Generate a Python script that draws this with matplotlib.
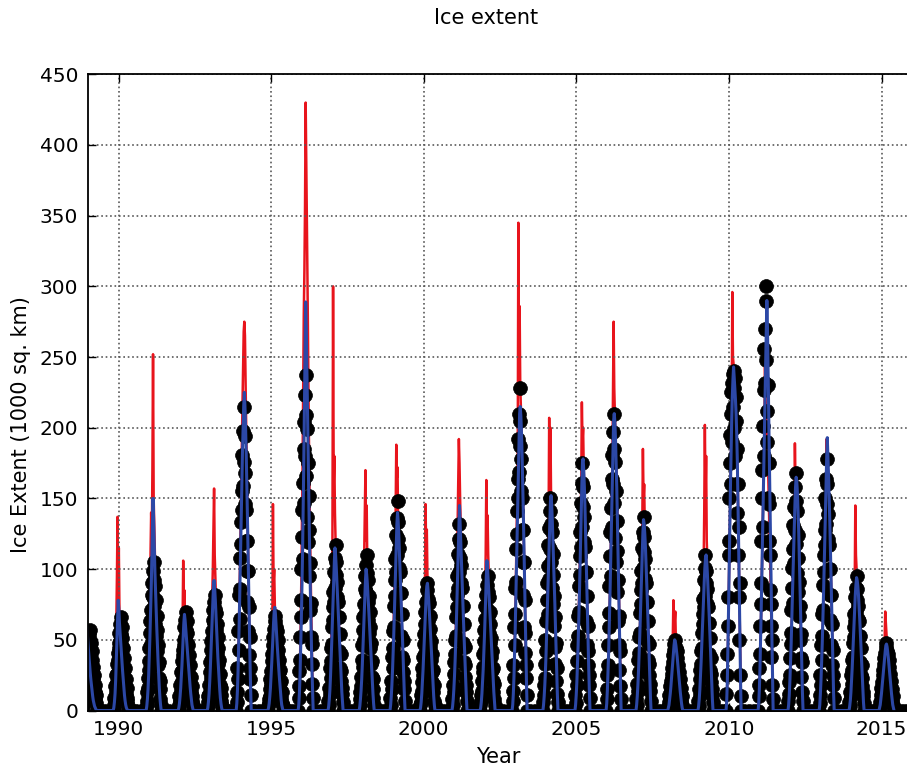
import numpy as np
import matplotlib
matplotlib.use('Agg')
import matplotlib.pyplot as plt

# Ice extent (1000 sq. km), one row per winter season, starting at season_start (decimal year)
season_start = [1988.805, 1989.825, 1990.905, 1991.955, 1992.905, 1993.855, 1994.895,
                1995.885, 1996.865, 1997.885, 1998.895, 1999.875, 2000.925, 2001.845,
                2002.895, 2003.905, 2004.955, 2005.975, 2006.955, 2007.995, 2008.985,
                2009.905, 2010.955, 2011.935, 2012.955, 2013.935, 2014.915]
black_step_days = 5    # black dots read every 5 days
line_step_days = 7.5   # red / blue lines read every 7.5 days

# black dots: observed extent (noisy)
black_vals = [
    [0, 2, 7, 4, 13, 9, 19, 24, 16, 30, 34, 26, 39, 44, 35, 49, 54, 43, 57, 50, 40, 48, 33, 42, 29, 36, 23, 31, 17, 25, 13, 18, 8, 11, 5, 2, 0],
    [0, 4, 2, 9, 7, 17, 13, 25, 20, 33, 26, 41, 36, 48, 44, 55, 49, 61, 66, 54, 59, 45, 51, 37, 44, 30, 37, 24, 30, 17, 22, 12, 16, 7, 9, 3, 0],
    [0, 4, 13, 7, 23, 16, 35, 44, 29, 55, 63, 47, 71, 82, 65, 90, 99, 80, 105, 92, 74, 88, 61, 78, 53, 67, 42, 57, 32, 46, 23, 34, 15, 21, 8, 4, 0],
    [0, 4, 2, 10, 7, 18, 14, 27, 21, 35, 28, 43, 39, 50, 46, 59, 52, 64, 70, 57, 63, 48, 55, 39, 46, 32, 39, 25, 32, 18, 24, 13, 17, 7, 10, 4, 0],
    [0, 3, 10, 6, 18, 12, 27, 34, 23, 43, 49, 37, 56, 64, 51, 71, 77, 62, 82, 72, 57, 69, 48, 61, 41, 52, 33, 44, 25, 36, 18, 26, 11, 16, 7, 3, 0],
    [0, 13, 6, 30, 22, 56, 43, 82, 65, 108, 86, 133, 118, 155, 142, 181, 159, 198, 215, 176, 194, 146, 168, 120, 142, 99, 120, 77, 99, 56, 73, 39, 52, 22, 30, 11, 0],
    [0, 3, 8, 5, 15, 10, 22, 28, 19, 35, 40, 30, 46, 52, 42, 58, 63, 51, 67, 59, 47, 56, 39, 50, 34, 43, 27, 36, 20, 29, 15, 21, 9, 13, 5, 3, 0],
    [0, 9, 28, 17, 52, 36, 78, 100, 66, 123, 142, 107, 161, 185, 147, 204, 223, 180, 237, 209, 166, 199, 137, 175, 119, 152, 95, 128, 71, 104, 52, 76, 33, 47, 19, 9, 0],
    [0, 7, 4, 16, 12, 30, 23, 44, 35, 59, 47, 73, 64, 84, 77, 98, 87, 108, 117, 96, 105, 80, 91, 66, 77, 54, 66, 42, 54, 30, 40, 21, 28, 12, 16, 6, 0],
    [0, 4, 13, 8, 24, 17, 36, 46, 31, 57, 66, 50, 75, 86, 68, 95, 103, 84, 110, 97, 77, 92, 64, 81, 55, 70, 44, 59, 33, 48, 24, 35, 15, 22, 9, 4, 0],
    [0, 9, 4, 21, 15, 38, 30, 56, 44, 74, 59, 92, 81, 107, 98, 124, 110, 136, 148, 121, 133, 101, 115, 83, 98, 68, 83, 53, 68, 38, 50, 27, 36, 15, 21, 7, 0],
    [0, 4, 11, 6, 20, 14, 30, 38, 25, 47, 54, 41, 61, 70, 56, 77, 85, 68, 90, 79, 63, 76, 52, 67, 45, 58, 36, 49, 27, 40, 20, 29, 13, 18, 7, 4, 0],
    [0, 8, 4, 18, 13, 34, 26, 50, 40, 66, 53, 82, 73, 95, 87, 111, 98, 121, 132, 108, 119, 90, 103, 74, 87, 61, 74, 48, 61, 34, 45, 24, 32, 13, 18, 7, 0],
    [0, 4, 11, 7, 21, 14, 31, 40, 27, 49, 57, 43, 65, 74, 59, 82, 89, 72, 95, 84, 67, 80, 55, 70, 48, 61, 38, 51, 29, 42, 21, 30, 13, 19, 8, 4, 0],
    [0, 14, 7, 32, 23, 59, 46, 87, 68, 114, 91, 141, 125, 164, 150, 192, 169, 210, 228, 187, 205, 155, 178, 128, 150, 105, 128, 82, 105, 59, 78, 41, 55, 23, 32, 11, 0],
    [0, 6, 18, 11, 33, 23, 50, 63, 42, 78, 90, 68, 102, 117, 93, 129, 141, 114, 150, 132, 105, 126, 87, 111, 75, 96, 60, 81, 45, 66, 33, 48, 21, 30, 12, 6, 0],
    [0, 11, 5, 25, 18, 46, 35, 67, 53, 88, 70, 109, 96, 126, 116, 147, 130, 161, 175, 144, 158, 119, 137, 98, 116, 81, 98, 63, 81, 46, 60, 32, 42, 18, 25, 9, 0],
    [0, 8, 25, 15, 46, 32, 69, 88, 59, 109, 126, 95, 143, 164, 130, 181, 197, 160, 210, 185, 147, 176, 122, 155, 105, 134, 84, 113, 63, 92, 46, 67, 29, 42, 17, 8, 0],
    [0, 8, 4, 19, 14, 36, 27, 52, 41, 69, 55, 85, 75, 99, 90, 115, 101, 126, 137, 112, 123, 93, 107, 77, 90, 63, 77, 49, 63, 36, 47, 25, 33, 14, 19, 7, 0],
    [0, 2, 6, 4, 11, 8, 17, 21, 14, 26, 30, 23, 34, 39, 31, 43, 47, 38, 50, 44, 35, 42, 29, 37, 25, 32, 20, 27, 15, 22, 11, 16, 7, 10, 4, 2, 0],
    [0, 7, 3, 15, 11, 29, 22, 42, 33, 55, 44, 68, 61, 79, 73, 92, 81, 101, 110, 90, 99, 75, 86, 62, 73, 51, 62, 40, 51, 29, 37, 20, 26, 11, 15, 6, 0],
    [0, 12, 40, 25, 80, 60, 120, 150, 110, 175, 195, 160, 210, 225, 190, 232, 238, 215, 240, 228, 200, 235, 180, 222, 160, 205, 140, 185, 110, 160, 80, 130, 50, 90, 25, 10, 0],
    [0, 10, 30, 18, 60, 40, 90, 120, 75, 150, 170, 130, 201, 227, 180, 256, 270, 232, 300, 290, 248, 212, 190, 230, 150, 175, 120, 146, 85, 110, 60, 75, 38, 50, 18, 8, 0],
    [0, 7, 20, 12, 37, 25, 55, 71, 47, 87, 101, 76, 114, 131, 104, 144, 158, 128, 168, 148, 118, 141, 97, 124, 84, 108, 67, 91, 50, 74, 37, 54, 24, 34, 13, 7, 0],
    [0, 11, 5, 25, 18, 46, 36, 68, 53, 89, 71, 110, 98, 128, 117, 150, 132, 164, 178, 146, 160, 121, 139, 100, 117, 82, 100, 64, 82, 46, 61, 32, 43, 18, 25, 9, 0],
    [0, 6, 3, 13, 10, 25, 19, 36, 29, 48, 38, 59, 52, 68, 63, 80, 70, 87, 95, 78, 86, 65, 74, 53, 63, 44, 53, 34, 44, 25, 32, 17, 23, 10, 13, 5, 0],
    [0, 2, 6, 3, 11, 7, 16, 20, 13, 25, 29, 22, 33, 37, 30, 41, 45, 36, 48, 42, 34, 40, 28, 36, 24, 31, 19, 26, 14, 21, 11, 15, 7, 10, 4, 2, 0],
]

# red line: daily estimate (spiky)
red_vals = [
    [0, 2, 5, 10, 15, 22, 28, 30, 26, 20, 24, 18, 14, 10, 8, 6, 4, 3, 2, 1, 0, 0, 0, 0, 0],
    [0, 2, 6, 15, 30, 60, 95, 137, 80, 115, 70, 60, 45, 40, 30, 28, 20, 15, 10, 6, 3, 1, 0, 0, 0],
    [0, 3, 10, 20, 35, 55, 80, 110, 140, 120, 170, 252, 150, 130, 110, 95, 80, 65, 50, 38, 25, 15, 8, 3, 0],
    [0, 2, 5, 10, 18, 30, 45, 60, 106, 75, 85, 65, 55, 50, 45, 40, 35, 28, 22, 16, 10, 6, 3, 1, 0],
    [0, 2, 6, 12, 20, 30, 45, 60, 80, 100, 130, 157, 110, 95, 80, 65, 55, 45, 35, 26, 18, 10, 5, 2, 0],
    [0, 4, 12, 28, 50, 75, 100, 130, 160, 190, 215, 240, 268, 275, 265, 230, 200, 170, 140, 110, 80, 55, 30, 12, 0],
    [0, 2, 5, 10, 16, 25, 35, 60, 146, 90, 100, 75, 60, 50, 45, 40, 34, 28, 22, 16, 10, 6, 3, 1, 0],
    [0, 5, 15, 35, 60, 90, 130, 170, 230, 280, 311, 357, 430, 387, 350, 300, 250, 200, 160, 125, 95, 65, 40, 18, 0],
    [0, 3, 8, 16, 28, 45, 70, 120, 300, 160, 180, 140, 120, 110, 100, 90, 78, 66, 54, 42, 30, 20, 11, 4, 0],
    [0, 3, 8, 15, 25, 38, 55, 80, 110, 140, 170, 120, 145, 100, 90, 80, 72, 62, 52, 42, 32, 22, 13, 5, 0],
    [0, 4, 10, 20, 32, 48, 66, 88, 110, 140, 188, 165, 172, 130, 120, 108, 95, 82, 70, 58, 45, 32, 20, 9, 0],
    [0, 3, 7, 14, 22, 32, 45, 60, 80, 146, 110, 128, 95, 85, 78, 70, 62, 54, 45, 36, 27, 18, 10, 4, 0],
    [0, 3, 8, 16, 26, 40, 56, 75, 100, 130, 160, 192, 175, 150, 130, 115, 100, 86, 72, 58, 45, 32, 20, 9, 0],
    [0, 3, 7, 14, 22, 32, 45, 60, 80, 110, 163, 130, 138, 110, 95, 85, 75, 64, 54, 44, 34, 24, 14, 6, 0],
    [0, 5, 14, 28, 45, 65, 90, 120, 150, 180, 345, 240, 286, 230, 215, 200, 180, 160, 135, 110, 85, 60, 38, 16, 0],
    [0, 4, 10, 20, 32, 46, 62, 80, 100, 130, 207, 160, 200, 150, 140, 128, 114, 100, 85, 70, 55, 40, 25, 10, 0],
    [0, 4, 12, 22, 35, 50, 68, 88, 110, 135, 160, 218, 190, 200, 170, 156, 140, 122, 102, 83, 64, 45, 28, 12, 0],
    [0, 5, 14, 26, 42, 60, 80, 102, 126, 150, 175, 226, 275, 228, 210, 196, 180, 162, 140, 116, 92, 68, 44, 20, 0],
    [0, 4, 10, 18, 28, 40, 54, 70, 88, 108, 130, 185, 150, 160, 130, 118, 105, 92, 78, 64, 50, 36, 22, 9, 0],
    [0, 2, 4, 8, 12, 18, 25, 35, 50, 78, 55, 62, 70, 48, 42, 38, 33, 28, 23, 18, 13, 9, 5, 2, 0],
    [0, 3, 8, 15, 24, 34, 46, 60, 78, 100, 140, 202, 150, 180, 120, 105, 92, 80, 68, 56, 44, 32, 20, 8, 0],
    [0, 6, 20, 45, 75, 105, 135, 160, 185, 210, 296, 250, 245, 235, 228, 220, 210, 195, 175, 150, 120, 88, 56, 25, 0],
    [0, 5, 15, 30, 50, 72, 95, 120, 145, 170, 200, 243, 220, 210, 200, 185, 170, 150, 130, 110, 88, 65, 42, 20, 0],
    [0, 4, 11, 21, 33, 47, 63, 80, 98, 116, 135, 189, 160, 165, 150, 140, 126, 112, 96, 78, 60, 42, 26, 11, 0],
    [0, 4, 12, 22, 34, 48, 64, 82, 100, 120, 140, 160, 192, 150, 170, 160, 146, 130, 112, 92, 72, 50, 31, 13, 0],
    [0, 3, 7, 13, 21, 30, 40, 52, 66, 85, 145, 110, 100, 90, 85, 80, 72, 64, 55, 45, 35, 24, 14, 6, 0],
    [0, 2, 4, 8, 12, 17, 22, 28, 36, 48, 70, 62, 55, 46, 40, 35, 30, 25, 20, 16, 11, 7, 4, 2, 0],
]

# blue line: smoothed extent
blue_vals = [
    [0, 5, 12, 22, 34, 46, 56, 62, 58, 50, 44, 38, 32, 27, 22, 18, 14, 10, 7, 5, 3, 2, 1, 0, 0],
    [0, 2, 6, 12, 22, 35, 50, 65, 78, 72, 62, 55, 48, 40, 34, 28, 22, 16, 11, 7, 4, 2, 1, 0, 0],
    [0, 3, 8, 15, 25, 38, 52, 68, 85, 105, 130, 150, 135, 115, 98, 84, 70, 58, 46, 35, 25, 16, 9, 4, 0],
    [0, 2, 5, 10, 16, 24, 32, 42, 52, 62, 68, 64, 58, 52, 46, 40, 34, 28, 22, 17, 12, 8, 4, 2, 0],
    [0, 2, 6, 12, 20, 30, 42, 55, 68, 80, 88, 92, 86, 78, 68, 58, 48, 38, 30, 22, 15, 9, 5, 2, 0],
    [0, 5, 14, 28, 46, 66, 90, 115, 140, 162, 182, 200, 215, 225, 215, 200, 182, 160, 136, 110, 84, 60, 36, 16, 0],
    [0, 2, 5, 10, 16, 24, 33, 42, 52, 62, 70, 73, 68, 60, 52, 45, 38, 31, 25, 19, 13, 8, 4, 2, 0],
    [0, 4, 12, 25, 42, 62, 85, 110, 140, 175, 215, 255, 289, 270, 240, 210, 180, 150, 122, 96, 72, 50, 30, 14, 0],
    [0, 3, 8, 15, 25, 37, 50, 64, 78, 92, 105, 115, 110, 102, 92, 82, 72, 62, 52, 42, 32, 22, 13, 6, 0],
    [0, 3, 8, 14, 22, 32, 44, 56, 68, 80, 92, 100, 96, 90, 82, 74, 65, 56, 47, 38, 29, 20, 12, 5, 0],
    [0, 4, 10, 18, 28, 40, 54, 70, 86, 102, 118, 132, 140, 134, 124, 112, 100, 88, 76, 63, 50, 36, 22, 10, 0],
    [0, 2, 6, 12, 20, 29, 39, 50, 61, 72, 82, 88, 90, 85, 78, 70, 62, 54, 45, 36, 27, 18, 10, 4, 0],
    [0, 3, 8, 15, 24, 35, 48, 62, 78, 95, 112, 130, 145, 132, 118, 104, 92, 80, 68, 56, 44, 32, 20, 9, 0],
    [0, 2, 6, 12, 20, 29, 40, 52, 65, 80, 95, 106, 100, 92, 84, 76, 67, 58, 49, 40, 31, 22, 13, 6, 0],
    [0, 4, 12, 24, 40, 58, 80, 102, 125, 148, 170, 192, 210, 215, 208, 196, 180, 160, 138, 114, 90, 66, 42, 19, 0],
    [0, 4, 10, 18, 28, 40, 55, 70, 86, 102, 118, 134, 148, 152, 145, 134, 120, 106, 91, 76, 60, 44, 28, 12, 0],
    [0, 4, 11, 20, 32, 46, 62, 80, 100, 120, 140, 160, 176, 178, 170, 158, 143, 125, 106, 86, 66, 47, 29, 13, 0],
    [0, 5, 14, 26, 40, 58, 78, 98, 120, 142, 164, 186, 205, 210, 204, 192, 176, 158, 136, 112, 88, 64, 40, 18, 0],
    [0, 4, 10, 18, 28, 40, 53, 67, 82, 97, 112, 126, 135, 132, 125, 116, 104, 92, 79, 65, 51, 37, 23, 10, 0],
    [0, 2, 4, 8, 12, 17, 23, 29, 35, 41, 46, 50, 49, 46, 42, 38, 33, 28, 23, 18, 13, 9, 5, 2, 0],
    [0, 3, 8, 15, 24, 34, 45, 57, 69, 80, 91, 101, 108, 110, 105, 97, 87, 77, 66, 54, 42, 30, 18, 8, 0],
    [0, 6, 20, 44, 72, 102, 132, 158, 182, 205, 222, 234, 243, 236, 228, 220, 210, 196, 176, 150, 120, 88, 56, 25, 0],
    [0, 5, 15, 30, 50, 72, 95, 120, 145, 170, 195, 220, 245, 268, 290, 270, 240, 210, 178, 146, 114, 82, 52, 24, 0],
    [0, 4, 11, 21, 33, 47, 63, 80, 97, 114, 130, 145, 158, 165, 162, 154, 142, 128, 110, 90, 70, 49, 30, 13, 0],
    [0, 4, 12, 22, 34, 48, 64, 82, 100, 120, 140, 160, 178, 193, 180, 166, 150, 134, 115, 94, 73, 51, 31, 13, 0],
    [0, 3, 7, 13, 21, 30, 40, 51, 62, 72, 82, 89, 94, 92, 88, 82, 74, 65, 55, 45, 35, 24, 14, 6, 0],
    [0, 2, 4, 8, 12, 17, 22, 27, 32, 37, 42, 46, 47, 45, 41, 37, 32, 27, 22, 17, 12, 8, 4, 2, 0],
]

# open-water (zero extent) observations in summer, years after season start
summer_offsets = [0.6, 0.75, 0.9]

year_ticks = [1990, 1995, 2000, 2005, 2010, 2015]


def season_series(vals, step_days):
    t, v = [], []
    for t0, row in zip(season_start, vals):
        t.append(t0 + np.arange(len(row)) * step_days / 365.25)
        v.append(row)
    return np.concatenate(t), np.concatenate(v)


black_t, black = season_series(black_vals, black_step_days)
red_t, red = season_series(red_vals, line_step_days)
blue_t, blue = season_series(blue_vals, line_step_days)

zero_dates = np.array([t0 + o for t0 in season_start for o in summer_offsets])
black_t = np.concatenate([black_t, zero_dates])
black = np.concatenate([black, np.zeros(len(zero_dates))])

fig = plt.figure(figsize=(9.07, 7.71), dpi=100)
ax = fig.add_axes([88 / 907, 60.5 / 771, 854.6 / 907, 636.2 / 771])

ax.plot(red_t, red, color='#e8141c', lw=1.8, zorder=2)
ax.plot(black_t, black, 'o', color='black', ms=10, mew=0.5, zorder=3, linestyle='none')
ax.plot(blue_t, blue, color='#2c48a6', lw=2.2, zorder=4)

ax.set_xlim(1989.0, 2017.0)
ax.set_ylim(0, 450)
ax.set_xticks(year_ticks)
ax.set_xticklabels([str(y) for y in year_ticks])
ax.set_yticks(np.arange(0, 451, 50))
ax.grid(True, color='0.35', linestyle=':', lw=1.2)
ax.set_axisbelow(False)
for gl in ax.get_xgridlines() + ax.get_ygridlines():
    gl.set_zorder(1)

ax.tick_params(direction='in', top=True, right=True, length=6, width=1,
               labelsize=14.5, pad=7)
for s in ax.spines.values():
    s.set_linewidth(1.3)
    s.set_zorder(5)

ax.set_xlabel('Year', fontsize=15)
ax.xaxis.set_label_coords((498 - 88) / 854.6, -(747 - 710.5) / 636.2)
ax.set_ylabel('Ice Extent (1000 sq. km)', fontsize=15)
ax.yaxis.set_label_coords(-(88 - 31) / 854.6, (710.5 - 425) / 636.2)

fig.text(486 / 907, 1 - 18 / 771, 'Ice extent', ha='center', va='center', fontsize=15)

fig.savefig('out.png', dpi=100)
